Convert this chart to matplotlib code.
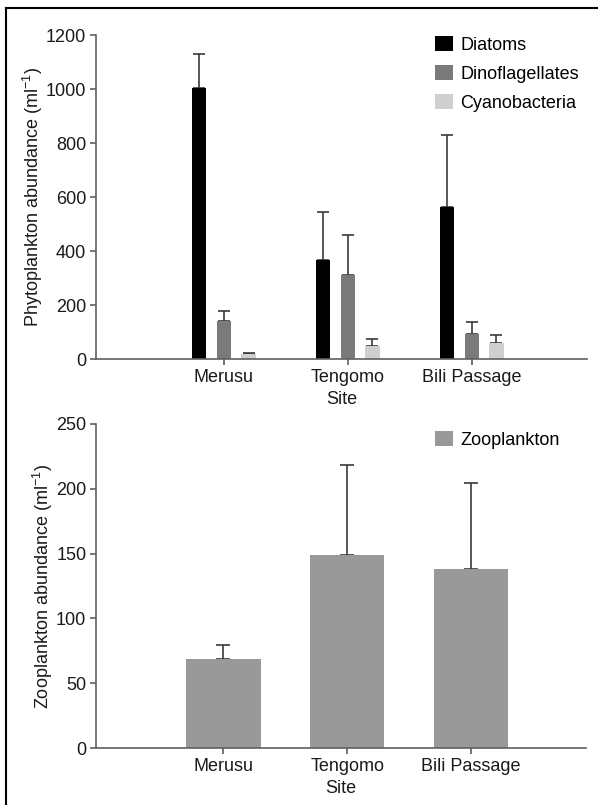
import matplotlib
matplotlib.use("Agg")
import matplotlib.pyplot as plt
import numpy as np
from matplotlib.lines import Line2D

sites = ["Merusu", "Tengomo", "Bili Passage"]
phyto_groups = ["Diatoms", "Dinoflagellates", "Cyanobacteria"]
diatoms = [1003, 368, 563]
diatoms_err = [127, 176, 265]
dino = [139, 312, 93]
dino_err = [40, 148, 44]
cyano = [19, 47, 59]
cyano_err = [5, 28, 30]
zoo = [69, 149, 138.5]
zoo_err = [10.5, 69.5, 66]

plt.rcParams['font.family'] = ['Liberation Sans', 'DejaVu Sans']
plt.rcParams['mathtext.fontset'] = 'custom'
plt.rcParams['mathtext.rm'] = 'Liberation Sans'

W, H = 598, 805
fig = plt.figure(figsize=(W/100, H/100), dpi=100)

def ax_rect(l, r, t, b):
    return [l/W, 1 - b/H, (r-l)/W, (b-t)/H]

def fig_pt(px, py):
    return (px/W, 1 - py/H)

axcol = '#606060'
txtcol = '#1a1a1a'
colors = ['#000000', '#7a7a7a', '#cfcfcf']
FS = 13

def style(ax):
    for s in ['top', 'right']:
        ax.spines[s].set_visible(False)
    for s in ['left', 'bottom']:
        ax.spines[s].set_color(axcol)
        ax.spines[s].set_linewidth(1.2)
    ax.tick_params(axis='both', colors=axcol, labelcolor=txtcol, labelsize=FS, length=4, width=1.2, pad=3)
    ax.set_xlabel("Site", fontsize=FS, color=txtcol, labelpad=4)

x = np.arange(1, 4)
ax1 = fig.add_axes(ax_rect(96, 587, 35, 359))
series = [(diatoms, diatoms_err), (dino, dino_err), (cyano, cyano_err)]
offsets = [-0.2, 0.0, 0.2]
for (vals, errs), off, c, lab in zip(series, offsets, colors, phyto_groups):
    ax1.bar(x + off, vals, width=0.115, color=c, label=lab, zorder=2)
    ax1.errorbar(x + off, vals, yerr=[np.zeros(3), errs], fmt='none', ecolor='#3a3a3a',
                 elinewidth=1.2, capsize=4.5, capthick=1.2, zorder=1)
ax1.set_xlim(-0.03, 3.93)
ax1.set_ylim(0, 1200)
ax1.set_yticks(range(0, 1201, 200))
ax1.set_xticks(x)
ax1.set_xticklabels(sites)
ax1.set_ylabel("Phytoplankton abundance (ml$^{\\mathregular{-1}}$)", fontsize=FS, color=txtcol, labelpad=1)
style(ax1)
ax1.legend(loc='upper left', bbox_to_anchor=fig_pt(435, 36), bbox_transform=fig.transFigure,
           frameon=False, fontsize=FS, borderpad=0, borderaxespad=0,
           handlelength=1.0, handleheight=0.9, handletextpad=0.4, labelspacing=0.62)

ax2 = fig.add_axes(ax_rect(96, 586, 424, 748))
ax2.bar(x, zoo, width=0.6, color='#999999', label="Zooplankton", zorder=2)
ax2.errorbar(x, zoo, yerr=[np.zeros(3), zoo_err], fmt='none', ecolor='#3a3a3a',
             elinewidth=1.2, capsize=5, capthick=1.2, zorder=1)
ax2.set_xlim(-0.03, 3.93)
ax2.set_ylim(0, 250)
ax2.set_yticks(range(0, 251, 50))
ax2.set_xticks(x)
ax2.set_xticklabels(sites)
ax2.set_ylabel("Zooplankton abundance (ml$^{\\mathregular{-1}}$)", fontsize=FS, color=txtcol, labelpad=1)
style(ax2)
ax2.legend(loc='upper left', bbox_to_anchor=fig_pt(435, 431), bbox_transform=fig.transFigure,
           frameon=False, fontsize=FS, borderpad=0, borderaxespad=0,
           handlelength=1.0, handleheight=0.9, handletextpad=0.4)

# partial figure border (left and top)
fig.add_artist(Line2D([6/W, 6/W], [0, 1 - 8/H], transform=fig.transFigure, color='black', lw=1.5))
fig.add_artist(Line2D([6/W, 1], [1 - 8/H, 1 - 8/H], transform=fig.transFigure, color='black', lw=1.5))

fig.savefig("out.png", dpi=100)
